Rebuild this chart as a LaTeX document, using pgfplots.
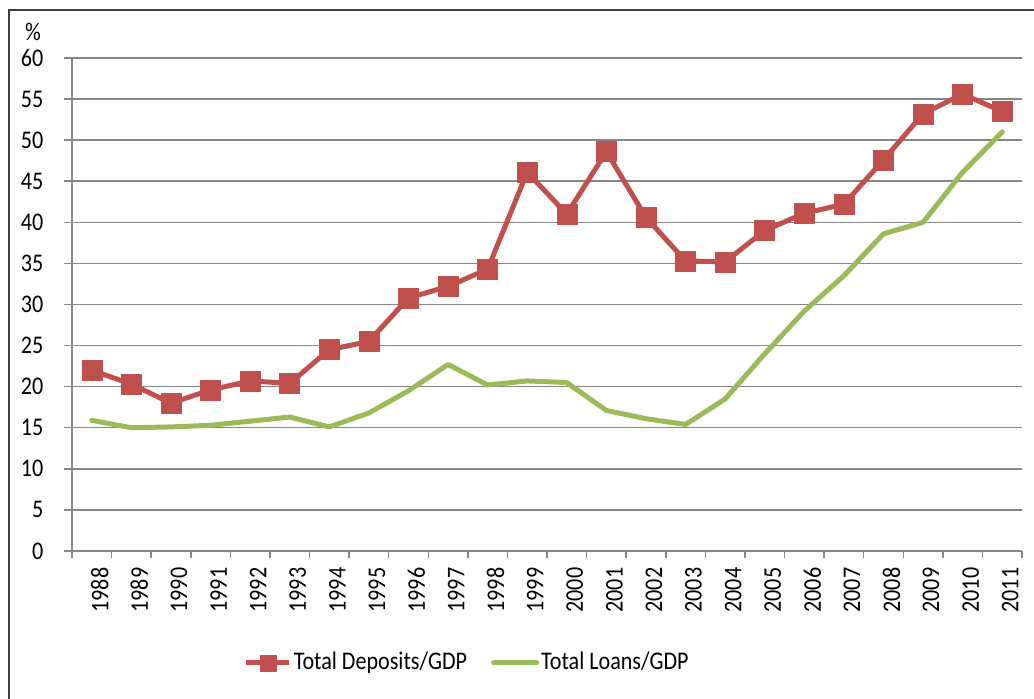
\documentclass[border=0pt]{standalone}
\usepackage{fontspec}
\setmainfont{Carlito}[FakeStretch=0.87]
\usepackage{pgfplots}
\pgfplotsset{compat=1.18}
\definecolor{dep}{HTML}{C0504D}
\definecolor{loan}{HTML}{9BBB59}
\definecolor{gridc}{HTML}{868686}
\newcommand{\cf}{\fontsize{25.5}{30}\selectfont}
\pgfplotsset{
  deplegend/.style={legend image code/.code={\draw[##1, mark repeat=2, mark phase=2, mark size=8bp] plot coordinates {(0bp,0bp)(21.5bp,0bp)(43bp,0bp)};}},
  loanlegend/.style={legend image code/.code={\draw[##1] (0bp,0bp) -- (43bp,0bp);}},
}
\begin{document}
\cf
\begin{tikzpicture}[x=1bp,y=1bp]
\useasboundingbox (-72,-148) rectangle (962,551);
\draw[line width=1.3bp, black!75] (-63,-150) -- (-63,541) -- (965,541);
\begin{axis}[
  at={(0,0)}, anchor=south west, scale only axis,
  width=950bp, height=493bp,
  xmin=-0.5, xmax=23.5, ymin=0, ymax=60,
  axis x line*=bottom, axis y line*=left,
  axis line style={gridc, line width=1.5bp, -},
  ytick={0,5,...,60},
  ymajorgrids, grid style={gridc, line width=1.5bp},
  xtick={0,...,23},
  xticklabels={1988,1989,1990,1991,1992,1993,1994,1995,1996,1997,1998,1999,2000,2001,2002,2003,2004,2005,2006,2007,2008,2009,2010,2011},
  minor xtick={-0.5,0.5,...,23.5},
  tick align=outside,
  major tick length=8bp, minor tick length=7bp,
  major x tick style={draw=none},
  ytick style={gridc, line width=1.5bp},
  minor x tick style={gridc, line width=1.5bp},
  xticklabel style={rotate=90, anchor=east, font=\cf, yshift=-8bp},
  yticklabel style={font=\cf, anchor=east, xshift=-12bp},
  /pgf/number format/assume math mode=true,
  ylabel={\%},
  ylabel style={rotate=-90, at={(axis description cs:-0.041,1.052)}, anchor=center, inner sep=0pt, font=\cf},
  legend style={at={(0.416,-0.227)}, anchor=center, draw=none, font=\cf,
    /tikz/every even column/.append style={column sep=22bp}},
  legend columns=2,
  clip=false,
]
\addplot[dep, line width=5bp, line join=round, mark=square*, mark size=10bp,
  mark options={solid, line width=0.5bp}, deplegend]
coordinates {
(0,22.0)(1,20.3)(2,18.0)(3,19.6)(4,20.7)(5,20.4)(6,24.5)(7,25.5)(8,30.8)(9,32.2)(10,34.3)(11,46.1)(12,41.0)(13,48.6)(14,40.6)(15,35.3)(16,35.2)(17,39.0)(18,41.1)(19,42.2)(20,47.6)(21,53.2)(22,55.6)(23,53.5)
};
\addlegendentry{Total Deposits/GDP}
\addplot[loan, line width=5bp, line join=round, line cap=round, no marks, loanlegend]
coordinates {
(0,15.9)(1,15.0)(2,15.1)(3,15.3)(4,15.8)(5,16.3)(6,15.1)(7,16.8)(8,19.5)(9,22.7)(10,20.2)(11,20.7)(12,20.5)(13,17.1)(14,16.1)(15,15.4)(16,18.5)(17,24.0)(18,29.2)(19,33.5)(20,38.6)(21,40.0)(22,46.1)(23,51.0)
};
\addlegendentry{Total Loans/GDP}
\end{axis}
\end{tikzpicture}
\end{document}
